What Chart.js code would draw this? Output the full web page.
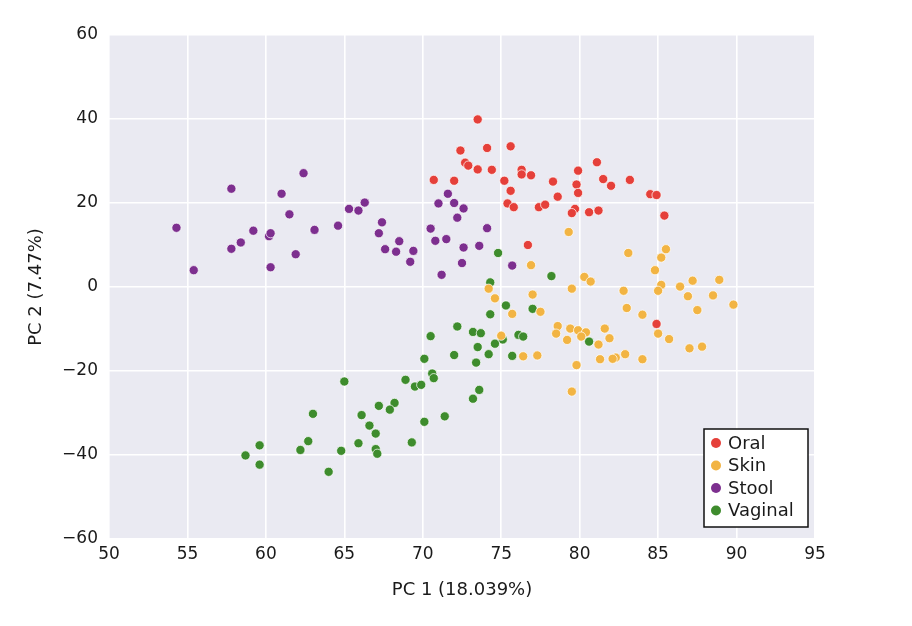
<!DOCTYPE html>
<html>
<head>
<meta charset="utf-8">
<script src="https://cdn.jsdelivr.net/npm/chart.js@4/dist/chart.umd.min.js"></script>
<style>
    html, body { margin: 0; padding: 0; background: #ffffff; }
    #wrap { width: 912px; height: 626px; }
</style>
</head>
<body>
<div id="wrap"><canvas id="pcaChart" width="912" height="626"></canvas></div>
<script>
// Valores (PC1, PC2) por tipo de muestra
const oralX = [73.5, 72.4, 74.1, 75.6, 72.7, 72.9, 73.5, 74.4, 70.7, 72.0, 75.2, 76.3, 76.3, 76.9,
    75.6, 75.4, 75.8, 78.3, 78.6, 77.4, 77.8, 79.9, 79.8, 79.9, 81.1, 81.5, 82.0, 83.2, 84.5, 84.9,
    85.4, 79.7, 79.5, 80.6, 81.2, 76.7, 84.9];
const oralY = [39.9, 32.5, 33.1, 33.5, 29.6, 28.9, 28.0, 27.9, 25.5, 25.3, 25.3, 27.9, 26.8, 26.6,
    22.9, 19.9, 19.0, 25.1, 21.5, 19.0, 19.6, 27.7, 24.4, 22.4, 29.7, 25.7, 24.1, 25.5, 22.1, 21.9,
    17.0, 18.6, 17.6, 17.8, 18.2, 10.0, -8.8];

const skinX = [79.3, 76.9, 83.1, 85.5, 85.2, 84.8, 80.3, 80.7, 74.2, 79.5, 82.8, 85.2, 85.0, 86.4,
    87.2, 88.9, 88.5, 86.9, 77.0, 74.6, 89.8, 87.5, 83.0, 84.0, 85.0, 85.7, 87.0, 87.8, 81.6, 81.9,
    81.2, 82.9, 82.3, 82.1, 81.3, 84.0, 79.8, 79.5, 79.4, 79.9, 80.4, 80.1, 79.2, 78.6, 78.5, 75.0,
    76.4, 77.3, 75.7, 77.5];
const skinY = [13.1, 5.2, 8.1, 9.0, 7.0, 4.0, 2.4, 1.3, -0.4, -0.4, -0.9, 0.5, -0.9, 0.1,
    1.5, 1.7, -2.0, -2.2, -1.8, -2.7, -4.2, -5.5, -5.0, -6.6, -11.1, -12.4, -14.6, -14.2, -9.9, -12.2,
    -13.7, -16.0, -16.8, -17.1, -17.2, -17.2, -18.6, -24.9, -9.9, -10.3, -10.8, -11.8, -12.6, -9.3, -11.1, -11.6,
    -16.5, -16.3, -6.4, -5.9];

const stoolX = [54.3, 55.4, 57.8, 57.8, 58.4, 59.2, 60.2, 60.3, 60.3, 61.0, 61.5, 61.9, 62.4, 63.1,
    64.6, 65.3, 65.9, 66.3, 67.4, 67.2, 67.6, 68.3, 68.5, 69.4, 69.2, 70.5, 70.8, 71.5, 71.2, 71.0,
    71.6, 72.0, 72.2, 72.6, 72.6, 73.6, 74.1, 72.5, 75.7];
const stoolY = [14.1, 4.0, 23.4, 9.1, 10.6, 13.4, 12.1, 12.8, 4.7, 22.2, 17.3, 7.8, 27.1, 13.6,
    14.6, 18.6, 18.2, 20.1, 15.4, 12.8, 9.0, 8.4, 10.9, 8.6, 6.0, 13.9, 11.0, 11.4, 2.9, 19.9,
    22.2, 20.0, 16.5, 18.7, 9.4, 9.8, 14.0, 5.7, 5.1];

const vaginalX = [74.8, 78.2, 74.3, 75.3, 77.0, 74.3, 72.2, 73.2, 73.7, 70.5, 75.1, 76.1, 76.4, 74.6,
    73.5, 80.6, 72.0, 74.2, 75.7, 73.4, 70.1, 68.9, 70.6, 70.7, 69.5, 69.9, 73.6, 73.2, 65.0, 68.2,
    67.9, 67.2, 71.4, 70.1, 63.0, 66.1, 66.6, 67.0, 65.9, 69.3, 62.7, 62.2, 64.8, 67.0, 67.1, 59.6,
    58.7, 59.6, 64.0];
const vaginalY = [8.1, 2.6, 1.1, -4.4, -5.2, -6.5, -9.4, -10.7, -11.0, -11.7, -12.5, -11.4, -11.8, -13.5,
    -14.3, -13.0, -16.2, -16.0, -16.4, -18.0, -17.1, -22.1, -20.6, -21.7, -23.7, -23.3, -24.5, -26.6, -22.5, -27.6,
    -29.2, -28.3, -30.8, -32.1, -30.2, -30.5, -33.0, -34.9, -37.2, -37.0, -36.7, -38.8, -39.0, -38.6, -39.7, -37.7,
    -40.1, -42.3, -44.0];

const X_TICKS = [50, 55, 60, 65, 70, 75, 80, 85, 90, 95];
const Y_TICKS = [-60, -40, -20, 0, 20, 40, 60];

const FONT = "'DejaVu Sans', 'Liberation Sans', sans-serif";
const TEXT_COLOR = '#1a1a1a';

function toPoints(xs, ys) {
    return xs.map((x, i) => ({ x: x, y: ys[i] }));
}

function makeDataset(label, xs, ys, color) {
    return {
        label: label,
        data: toPoints(xs, ys),
        backgroundColor: color,
        borderColor: 'rgba(255, 255, 255, 0.9)',
        borderWidth: 0.8,
        pointRadius: 4.6,
        pointHoverRadius: 4.6
    };
}

// Fondo gris del área de trazado
const plotBackground = {
    id: 'plotBackground',
    beforeDraw(chart) {
        const { ctx, chartArea } = chart;
        ctx.save();
        ctx.fillStyle = '#eaeaf2';
        ctx.fillRect(chartArea.left, chartArea.top, chartArea.right - chartArea.left, chartArea.bottom - chartArea.top);
        ctx.restore();
    }
};

// Leyenda en recuadro dentro del área (esquina inferior derecha)
const boxLegend = {
    id: 'boxLegend',
    afterDraw(chart) {
        const { ctx, chartArea } = chart;
        const datasets = chart.data.datasets;
        const boxW = 104;
        const boxH = 98;
        const left = chartArea.right - 111;
        const top = chartArea.bottom - 110;
        ctx.save();
        ctx.fillStyle = '#ffffff';
        ctx.fillRect(left, top, boxW, boxH);
        ctx.strokeStyle = '#111111';
        ctx.lineWidth = 1.5;
        ctx.strokeRect(left, top, boxW, boxH);
        ctx.font = '18px ' + FONT;
        ctx.textBaseline = 'middle';
        ctx.textAlign = 'left';
        datasets.forEach((ds, i) => {
            const cy = top + 14 + i * 22.5;
            ctx.beginPath();
            ctx.arc(left + 12, cy, 5, 0, Math.PI * 2);
            ctx.fillStyle = ds.backgroundColor;
            ctx.fill();
            ctx.fillStyle = TEXT_COLOR;
            ctx.fillText(ds.label, left + 24, cy + 1);
        });
        ctx.restore();
    }
};

function formatTick(value) {
    return value < 0 ? '\u2212' + Math.abs(value) : String(value);
}

const ctx = document.getElementById('pcaChart').getContext('2d');
new Chart(ctx, {
    type: 'scatter',
    data: {
        datasets: [
            makeDataset('Oral', oralX, oralY, '#e5403a'),
            makeDataset('Skin', skinX, skinY, '#f2b443'),
            makeDataset('Stool', stoolX, stoolY, '#7d2f8f'),
            makeDataset('Vaginal', vaginalX, vaginalY, '#3e8c2d')
        ]
    },
    options: {
        responsive: false,
        animation: false,
        layout: {
            padding: { left: 0, right: 97, top: 35, bottom: 0 }
        },
        plugins: {
            legend: { display: false },
            tooltip: { enabled: false }
        },
        scales: {
            x: {
                type: 'linear',
                min: X_TICKS[0],
                max: X_TICKS[X_TICKS.length - 1],
                afterBuildTicks: (scale) => { scale.ticks = X_TICKS.map(v => ({ value: v })); },
                afterFit: (scale) => { scale.height = 87; },
                grid: { color: '#ffffff', lineWidth: 1.6, drawTicks: false },
                border: { display: false },
                ticks: {
                    color: TEXT_COLOR,
                    font: { family: FONT, size: 17 },
                    padding: 5,
                    callback: formatTick
                },
                title: {
                    display: true,
                    text: 'PC 1 (18.039%)',
                    color: TEXT_COLOR,
                    font: { family: FONT, size: 18 },
                    padding: { top: 0, bottom: 25 }
                }
            },
            y: {
                type: 'linear',
                min: Y_TICKS[0],
                max: Y_TICKS[Y_TICKS.length - 1],
                afterBuildTicks: (scale) => { scale.ticks = Y_TICKS.map(v => ({ value: v })); },
                afterFit: (scale) => { scale.width = 109; },
                grid: { color: '#ffffff', lineWidth: 1.6, drawTicks: false },
                border: { display: false },
                ticks: {
                    color: TEXT_COLOR,
                    font: { family: FONT, size: 17 },
                    padding: 11,
                    callback: formatTick
                },
                title: {
                    display: true,
                    text: 'PC 2 (7.47%)',
                    color: TEXT_COLOR,
                    font: { family: FONT, size: 18 },
                    padding: { top: 26, bottom: 0 }
                }
            }
        }
    },
    plugins: [plotBackground, boxLegend]
});
</script>
</body>
</html>
